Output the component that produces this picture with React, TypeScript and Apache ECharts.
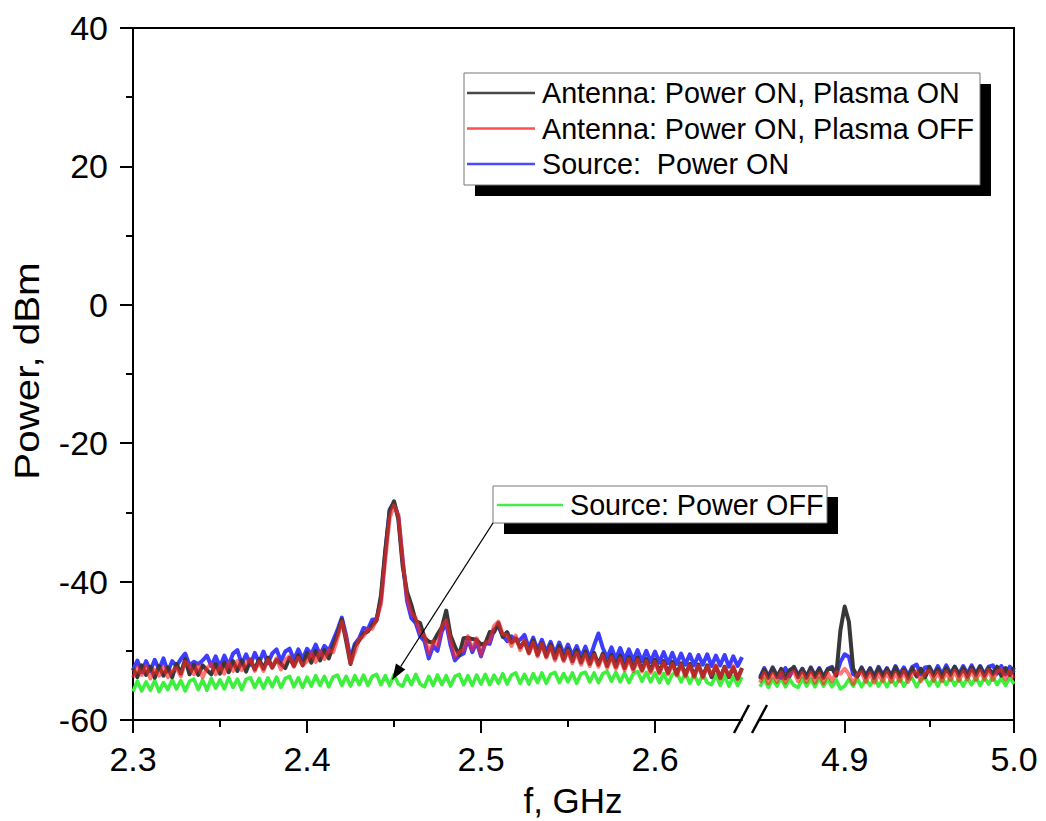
import React, { useEffect, useRef } from "react";
import * as echarts from "echarts";

// Frequency sampling (GHz)
const LEFT_START = 2.3;
const RIGHT_START = 4.85;
const STEP = 0.0025;

const seriesNames = [
  "Antenna: Power ON, Plasma ON",
  "Antenna: Power ON, Plasma OFF",
  "Source:  Power ON",
  "Source: Power OFF",
];

const leftMajor = [2.3, 2.4, 2.5, 2.6];
const leftMinor = [2.35, 2.45, 2.55];
const rightMajor = [4.9, 5.0];
const rightMinor = [4.95];

// ---- left segment (2.30 – 2.65 GHz), dBm ----
const blackLeft = [
  -52.5, -53.8, -52.1, -53.5, -52.3, -53.9, -52.2, -53.6, -52.4, -53.8,
  -51.9, -53.3, -51.2, -53.4, -52.0, -53.5, -52.1, -52.8, -53.4, -51.9,
  -53.3, -51.7, -53.1, -51.5, -52.9, -51.4, -53.0, -51.3, -52.7, -51.2,
  -52.6, -51.0, -52.4, -51.3, -51.9, -52.5, -51.0, -52.2, -50.6, -52.1,
  -50.3, -51.7, -50.0, -51.4, -49.9, -51.1, -49.3, -47.6, -45.5, -48.6,
  -51.9, -49.3, -48.5, -47.5, -47.2, -46.3, -45.6, -42.0, -35.5, -29.8,
  -28.4, -31.0, -37.8, -41.5, -43.4, -45.7, -46.0, -48.1, -48.7, -48.8,
  -47.6, -46.6, -44.2, -47.8, -49.4, -50.6, -48.2, -48.1, -48.3, -48.4,
  -49.1, -48.9, -47.3, -47.3, -46.0, -48.0, -47.3, -48.8, -48.2, -49.5,
  -48.6, -50.3, -48.5, -50.6, -48.9, -50.8, -49.1, -51.1, -49.3, -51.3,
  -49.7, -51.5, -49.9, -51.7, -50.1, -51.9, -50.3, -52.0, -50.4, -52.2,
  -50.6, -52.3, -50.7, -52.5, -50.9, -52.6, -51.0, -52.8, -51.2, -52.9,
  -51.3, -53.1, -51.5, -53.2, -51.6, -53.4, -51.8, -53.5, -51.9, -53.6,
  -52.0, -53.7, -52.1, -53.8, -52.2, -53.9, -52.3, -53.8, -52.4, -54.0, -52.5,
];
const redLeft = [
  -53.9, -52.4, -53.5, -52.2, -54.0, -52.7, -53.6, -52.3, -53.8, -52.9,
  -52.5, -53.7, -51.6, -52.2, -53.4, -52.1, -53.8, -52.5, -51.9, -53.4,
  -52.2, -53.3, -51.7, -52.9, -51.5, -52.8, -51.8, -51.2, -52.9, -51.6,
  -52.9, -51.3, -52.5, -51.1, -52.7, -51.3, -50.8, -52.3, -51.0, -52.1,
  -51.5, -50.3, -51.6, -50.1, -51.2, -49.9, -50.2, -48.2, -45.8, -48.1,
  -51.8, -50.2, -48.3, -47.9, -46.9, -46.8, -45.5, -43.2, -36.8, -30.8,
  -29.0, -30.4, -36.8, -42.4, -44.5, -45.3, -47.4, -47.8, -50.4, -48.6,
  -49.3, -46.5, -45.6, -48.5, -50.9, -50.2, -49.9, -47.9, -49.8, -48.2,
  -50.6, -48.8, -48.7, -46.4, -45.8, -47.6, -47.7, -49.3, -47.8, -49.9,
  -48.5, -50.4, -48.8, -50.8, -49.0, -51.0, -49.4, -51.4, -49.8, -51.5,
  -50.0, -51.8, -50.3, -52.0, -50.5, -52.2, -50.6, -52.3, -50.7, -52.5,
  -50.9, -52.6, -51.1, -52.8, -51.2, -52.9, -51.3, -53.0, -51.5, -53.2,
  -51.6, -53.3, -51.7, -53.4, -51.9, -53.6, -52.0, -53.7, -52.1, -53.8,
  -52.2, -53.9, -52.3, -53.5, -52.1, -54.0, -52.4, -53.7, -52.2, -54.1, -52.6,
];
const blueLeft = [
  -52.8, -51.4, -53.1, -51.5, -52.9, -51.3, -52.7, -51.1, -53.0, -51.5,
  -52.2, -51.2, -50.4, -52.1, -51.6, -51.9, -51.4, -50.7, -52.2, -50.8,
  -52.3, -50.7, -52.1, -50.4, -49.9, -51.9, -50.5, -52.0, -50.3, -51.7,
  -50.1, -51.8, -50.4, -49.8, -51.5, -50.1, -49.7, -51.3, -49.8, -51.2,
  -49.7, -50.5, -49.1, -50.6, -49.3, -50.0, -48.5, -47.0, -45.2, -47.8,
  -51.2, -49.0, -48.2, -46.7, -46.9, -45.5, -45.4, -42.6, -35.8, -29.6,
  -28.6, -30.6, -37.0, -42.8, -45.3, -46.0, -47.9, -48.6, -51.1, -49.3,
  -50.0, -47.2, -46.0, -49.2, -51.4, -50.7, -50.4, -48.3, -50.2, -48.7,
  -50.8, -48.9, -49.0, -46.9, -46.5, -47.8, -48.6, -47.9, -48.5, -48.4,
  -47.7, -49.6, -48.1, -49.9, -48.4, -50.2, -48.7, -50.4, -48.8, -50.5,
  -49.1, -50.7, -49.3, -50.9, -49.4, -51.1, -49.2, -47.5, -49.6, -51.0,
  -49.5, -51.2, -49.6, -51.3, -49.8, -51.4, -49.9, -51.5, -50.0, -51.6,
  -50.1, -51.7, -50.2, -51.8, -50.3, -51.9, -50.4, -52.0, -50.5, -52.1,
  -50.6, -52.0, -50.5, -52.2, -50.7, -52.1, -50.6, -52.3, -50.8, -52.2, -50.9,
];
const greenLeft = [
  -55.9, -54.4, -55.8, -54.5, -55.7, -54.3, -55.9, -54.6, -55.6, -54.2,
  -55.5, -54.3, -55.8, -54.4, -54.1, -55.6, -54.2, -55.7, -54.0, -55.4,
  -54.2, -55.5, -53.9, -55.3, -54.1, -55.6, -54.1, -53.9, -55.3, -54.0,
  -55.4, -53.9, -55.2, -53.8, -55.3, -54.0, -53.7, -55.2, -53.9, -55.3,
  -53.8, -55.1, -53.6, -55.0, -53.7, -55.2, -53.8, -53.5, -55.0, -53.7,
  -55.1, -53.6, -54.9, -53.5, -55.0, -53.7, -53.4, -54.9, -53.6, -55.0,
  -53.5, -54.8, -55.1, -53.6, -54.9, -53.4, -54.8, -55.2, -53.7, -55.0,
  -53.5, -54.9, -53.6, -55.1, -53.7, -53.4, -54.9, -53.6, -55.0, -53.5,
  -54.8, -53.4, -54.9, -53.5, -54.7, -53.3, -54.8, -53.5, -53.2, -54.7,
  -53.4, -54.8, -53.3, -54.6, -53.2, -54.7, -53.4, -53.1, -54.6, -53.3,
  -54.5, -53.2, -54.7, -53.3, -53.1, -54.5, -53.2, -54.6, -53.3, -53.0,
  -54.4, -53.1, -54.5, -53.2, -54.6, -53.3, -53.0, -54.4, -53.1, -54.5,
  -53.2, -54.6, -53.3, -54.7, -53.4, -53.1, -54.5, -53.2, -54.7, -53.4,
  -54.8, -53.4, -54.6, -54.9, -53.5, -55.0, -53.6, -55.1, -53.7, -55.0, -53.8,
];

// ---- right segment (4.85 – 5.00 GHz), dBm ----
const blackRight = [
  -54.1, -52.7, -53.9, -52.5, -53.8, -52.6, -54.0, -52.8, -52.4, -53.8,
  -52.6, -53.9, -52.5, -53.8, -52.6, -53.9, -52.7, -52.5, -53.6, -47.0,
  -43.6, -45.8, -52.6, -53.7, -52.5, -53.8, -52.6, -53.9, -52.5, -53.7,
  -52.6, -53.8, -52.4, -53.7, -52.7, -53.9, -52.5, -53.7, -52.6, -53.8,
  -52.4, -53.6, -52.6, -53.8, -52.5, -53.5, -52.3, -53.6, -52.5, -53.7,
  -52.4, -53.5, -52.3, -53.6, -52.5, -53.4, -52.3, -53.6, -52.5, -53.5, -52.4,
];
const redRight = [
  -54.6, -53.2, -54.7, -53.3, -54.5, -53.1, -54.6, -53.4, -53.0, -54.4,
  -53.2, -54.5, -53.1, -54.6, -53.3, -54.7, -53.2, -54.4, -53.1, -53.3,
  -52.6, -53.4, -54.8, -53.4, -53.1, -54.5, -53.2, -54.6, -53.3, -54.4,
  -53.1, -54.5, -53.2, -54.4, -53.0, -54.5, -53.3, -53.0, -54.4, -53.2,
  -52.9, -54.3, -53.1, -54.4, -53.0, -54.2, -52.9, -54.3, -53.0, -54.1,
  -52.8, -54.2, -52.9, -54.1, -52.8, -54.2, -53.0, -52.7, -54.1, -52.9, -54.0,
];
const blueRight = [
  -53.8, -52.5, -53.7, -52.4, -53.6, -53.9, -52.5, -53.7, -52.3, -53.5,
  -52.6, -53.7, -52.4, -53.6, -52.5, -53.8, -52.6, -52.3, -53.5, -51.6,
  -50.5, -50.9, -53.4, -53.7, -52.4, -53.6, -52.5, -53.7, -52.3, -53.5,
  -52.5, -53.6, -52.2, -53.4, -52.4, -53.6, -52.3, -52.0, -53.4, -52.4,
  -52.3, -53.5, -52.2, -53.4, -52.1, -53.3, -52.3, -53.4, -52.2, -53.3,
  -52.1, -53.3, -52.2, -53.4, -52.3, -52.1, -53.3, -52.2, -53.4, -52.3, -53.2,
];
const greenRight = [
  -55.2, -54.0, -55.3, -54.1, -55.1, -53.9, -55.2, -54.1, -55.0, -55.3,
  -54.0, -55.1, -54.1, -55.2, -53.9, -55.1, -54.1, -55.2, -54.2, -55.5,
  -55.1, -54.1, -55.1, -54.0, -55.2, -54.1, -55.0, -53.9, -55.1, -54.1,
  -55.2, -54.0, -55.0, -53.9, -55.1, -54.1, -54.0, -55.2, -54.1, -53.9,
  -55.0, -54.0, -55.1, -53.9, -54.9, -53.8, -55.0, -54.0, -55.1, -53.9,
  -54.9, -53.8, -55.0, -53.9, -54.8, -53.7, -54.9, -53.9, -55.0, -53.8, -54.8,
];

const FONT = "'Liberation Sans', Arial, Helvetica, sans-serif";
const lineColors = ["#383838", "rgba(255,35,35,0.62)", "#3d3dff", "#3df03d"];
const lineWidths = [4, 4, 4, 3.6];
const legendColors = ["#4a4a4a", "#ff5050", "#4a4aff", "#44ee44"];

function pairs(start: number, arr: number[]) {
  return arr.map((v, i) => [Number((start + i * STEP).toFixed(4)), v]);
}

export default function App() {
  const ref = useRef<HTMLDivElement>(null);

  useEffect(() => {
    if (!ref.current) return;
    const chart = echarts.init(ref.current, null, { renderer: "svg" });

    const leftData = [blackLeft, redLeft, blueLeft, greenLeft];
    const rightData = [blackRight, redRight, blueRight, greenRight];
    const drawOrder = [3, 2, 0, 1]; // green, blue, black, red on top

    const series: any[] = [];
    drawOrder.forEach((k) => {
      [
        { xi: 0, yi: 0, d: pairs(LEFT_START, leftData[k]) },
        { xi: 2, yi: 1, d: pairs(RIGHT_START, rightData[k]) },
      ].forEach((s) => {
        series.push({
          name: seriesNames[k],
          type: "line",
          xAxisIndex: s.xi,
          yAxisIndex: s.yi,
          data: s.d,
          symbol: "none",
          lineStyle: { color: lineColors[k], width: lineWidths[k], join: "round" },
          itemStyle: { color: lineColors[k] },
          z: 2,
        });
      });
    });

    const axisLine = { show: true, onZero: false, lineStyle: { color: "#000", width: 2 } };
    const labelStyle = { color: "#000", fontSize: 34, fontFamily: FONT };

    const majorX = (grid: number, min: number, max: number, ticks: number[]) => ({
      type: "value",
      gridIndex: grid,
      position: "bottom",
      min,
      max,
      axisLine,
      axisTick: {
        show: true,
        customValues: ticks,
        length: 13,
        lineStyle: { color: "#000", width: 2 },
      },
      axisLabel: {
        ...labelStyle,
        customValues: ticks,
        margin: 22,
        formatter: (v: number) => v.toFixed(1),
      },
      splitLine: { show: false },
    });
    const minorX = (grid: number, min: number, max: number, ticks: number[]) => ({
      type: "value",
      gridIndex: grid,
      position: "bottom",
      min,
      max,
      axisLine: { show: false, onZero: false },
      axisTick: {
        show: true,
        customValues: ticks,
        length: 7,
        lineStyle: { color: "#000", width: 2 },
      },
      axisLabel: { show: false },
      splitLine: { show: false },
    });

    const legendRows = [0, 1, 2];
    const legend1: any[] = [
      { type: "rect", shape: { x: 475, y: 84, width: 516, height: 112 }, style: { fill: "#000" } },
      {
        type: "rect",
        shape: { x: 464, y: 73, width: 516, height: 112 },
        style: { fill: "#fff", stroke: "#777", lineWidth: 1 },
      },
    ];
    legendRows.forEach((k, r) => {
      const y = 93 + r * 35.5;
      legend1.push({
        type: "line",
        shape: { x1: 467, y1: y, x2: 535, y2: y },
        style: { stroke: legendColors[k], lineWidth: 2.5 },
      });
      legend1.push({
        type: "text",
        x: 542,
        y,
        style: {
          text: seriesNames[k],
          fontSize: 28.7,
          fontFamily: FONT,
          fill: "#000",
          verticalAlign: "middle",
        },
      });
    });

    const legend2: any[] = [
      { type: "rect", shape: { x: 504, y: 497, width: 334, height: 37 }, style: { fill: "#000" } },
      {
        type: "rect",
        shape: { x: 493, y: 486, width: 334, height: 37 },
        style: { fill: "#fff", stroke: "#777", lineWidth: 1 },
      },
      {
        type: "line",
        shape: { x1: 497, y1: 505, x2: 563, y2: 505 },
        style: { stroke: legendColors[3], lineWidth: 2.5 },
      },
      {
        type: "text",
        x: 570,
        y: 505,
        style: {
          text: seriesNames[3],
          fontSize: 28.7,
          fontFamily: FONT,
          fill: "#000",
          verticalAlign: "middle",
        },
      },
    ];

    const arrow: any[] = [
      {
        type: "line",
        shape: { x1: 493, y1: 523, x2: 400.7, y2: 666.5 },
        style: { stroke: "#000", lineWidth: 1.3 },
      },
      {
        type: "polygon",
        shape: { points: [[392, 680], [405.3, 669.5], [396.0, 663.6]] },
        style: { fill: "#000" },
      },
    ];

    chart.setOption({
      animation: false,
      backgroundColor: "#fff",
      grid: [
        { left: 133, top: 28, width: 609, height: 692 },
        { left: 760, top: 28, width: 254, height: 692 },
      ],
      xAxis: [
        majorX(0, 2.3, 2.65, leftMajor),
        minorX(0, 2.3, 2.65, leftMinor),
        majorX(1, 4.85, 5.0, rightMajor),
        minorX(1, 4.85, 5.0, rightMinor),
      ],
      yAxis: [
        {
          type: "value",
          gridIndex: 0,
          position: "left",
          min: -60,
          max: 40,
          interval: 20,
          axisLine,
          axisTick: { show: true, length: 13, lineStyle: { color: "#000", width: 2 } },
          minorTick: { show: true, splitNumber: 2, length: 7, lineStyle: { color: "#000", width: 2 } },
          axisLabel: { ...labelStyle, margin: 25 },
          splitLine: { show: false },
          minorSplitLine: { show: false },
        },
        {
          type: "value",
          gridIndex: 1,
          position: "right",
          min: -60,
          max: 40,
          interval: 20,
          axisLine,
          axisTick: { show: false },
          axisLabel: { show: false },
          splitLine: { show: false },
        },
      ],
      series,
      graphic: [
        {
          type: "line",
          shape: { x1: 132, y1: 28, x2: 1015, y2: 28 },
          style: { stroke: "#000", lineWidth: 2 },
          z: 10,
        },
        {
          type: "line",
          shape: { x1: 734, y1: 733, x2: 749, y2: 705 },
          style: { stroke: "#000", lineWidth: 2.5 },
          z: 10,
        },
        {
          type: "line",
          shape: { x1: 752, y1: 733, x2: 767, y2: 705 },
          style: { stroke: "#000", lineWidth: 2.5 },
          z: 10,
        },
        {
          type: "text",
          x: 26,
          y: 371,
          rotation: Math.PI / 2,
          scaleX: 1.12,
          style: {
            text: "Power, dBm",
            fontSize: 36,
            fontFamily: FONT,
            fill: "#000",
            align: "center",
            verticalAlign: "middle",
          },
          z: 10,
        },
        {
          type: "text",
          x: 573,
          y: 800,
          style: {
            text: "f, GHz",
            fontSize: 35,
            fontFamily: FONT,
            fill: "#000",
            align: "center",
            verticalAlign: "middle",
          },
          z: 10,
        },
        ...legend1.map((e) => ({ ...e, z: 20 })),
        ...legend2.map((e) => ({ ...e, z: 20 })),
        ...arrow.map((e) => ({ ...e, z: 20 })),
      ],
    });

    return () => chart.dispose();
  }, []);

  return (
    <div
      ref={ref}
      style={{ position: "fixed", left: 0, top: 0, width: 1046, height: 821, background: "#fff" }}
    />
  );
}
